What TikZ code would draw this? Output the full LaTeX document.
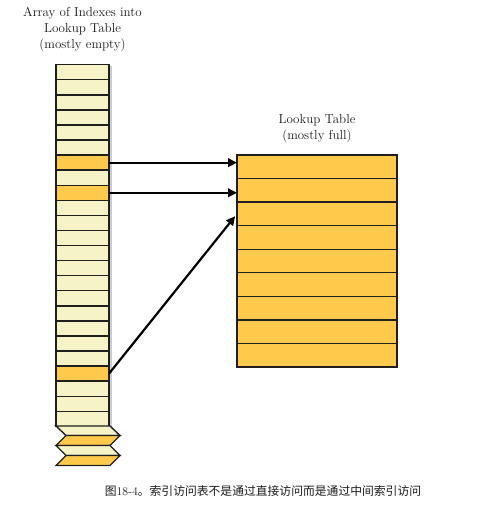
\documentclass[tikz,border=0pt]{standalone}
\usepackage{fontspec}
\newfontfamily\cjk{Noto Sans CJK SC}
\usetikzlibrary{arrows.meta,calc}
\definecolor{lightcell}{HTML}{F6F4C6}
\definecolor{fullcell}{HTML}{FFCA4C}
\definecolor{txt}{HTML}{1A1A1A}
\tikzset{
  lcell/.style={draw=black!88, line width=1.4pt, fill=lightcell, minimum width=53pt, minimum height=15.07pt, inner sep=0pt, outer sep=0pt, anchor=north west},
  lfull/.style={lcell, fill=fullcell},
  rcell/.style={draw=black!88, line width=1.4pt, fill=fullcell, minimum width=160pt, minimum height=23.55pt, inner sep=0pt, outer sep=0pt, anchor=north west},
  ptr/.style={line width=2.2pt, -{Triangle[length=9pt,width=8.5pt]}},
  title/.style={align=center, text=txt, font=\fontsize{13}{16}\selectfont},
  zig/.style={draw=black!88, line width=1.4pt, line join=miter}
}
\begin{document}
\begin{tikzpicture}[x=1pt,y=-1pt]
\useasboundingbox (0,0) rectangle (491,505);
% shadow of the array
\fill[black!20] (109,66) rectangle (111.5,426);
% left array
\foreach \i in {0,...,23} {
  \pgfmathsetmacro{\yy}{64.7+\i*15.07}
  \ifnum\i=6 \node[lfull] (L\i) at (56,\yy) {};
  \else\ifnum\i=8 \node[lfull] (L\i) at (56,\yy) {};
  \else\ifnum\i=20 \node[lfull] (L\i) at (56,\yy) {};
  \else \node[lcell] (L\i) at (56,\yy) {};
  \fi\fi\fi
}
% zigzag continuation
\filldraw[zig, fill=lightcell] (56,426) -- (110,426) -- (120,435.5) -- (66,435.5) -- cycle;
\filldraw[zig, fill=fullcell] (66,435.5) -- (120,435.5) -- (110,445.5) -- (56,445.5) -- cycle;
\filldraw[zig, fill=lightcell] (56,445.5) -- (110,445.5) -- (120,455.5) -- (66,455.5) -- cycle;
\filldraw[zig, fill=fullcell] (66,455.5) -- (120,455.5) -- (110,465.5) -- (56,465.5) -- cycle;
% right table
\foreach \i in {0,...,8} {
  \pgfmathsetmacro{\yy}{155+\i*23.55}
  \node[rcell] (R\i) at (237,\yy) {};
}
% titles
\node[title] (t1) at (82.5,29.5) {Array of Indexes into\\Lookup Table\\(mostly empty)};
\node[title] (t2) at (317,129) {Lookup Table\\(mostly full)};
% pointers
\draw[ptr] (L6.east) -- (L6.east -| R0.west);
\draw[ptr] (L8.east) -- (L8.east -| R1.west);
\draw[ptr, shorten >=3pt] (L20.east) -- (R2.west);
% caption
\node[text=txt, inner sep=0pt] (cap) at (263,491) {\cjk\fontsize{11.8}{14}\selectfont 图{\rmfamily 18-4}。索引访问表不是通过直接访问而是通过中间索引访问};
\end{tikzpicture}
\end{document}
